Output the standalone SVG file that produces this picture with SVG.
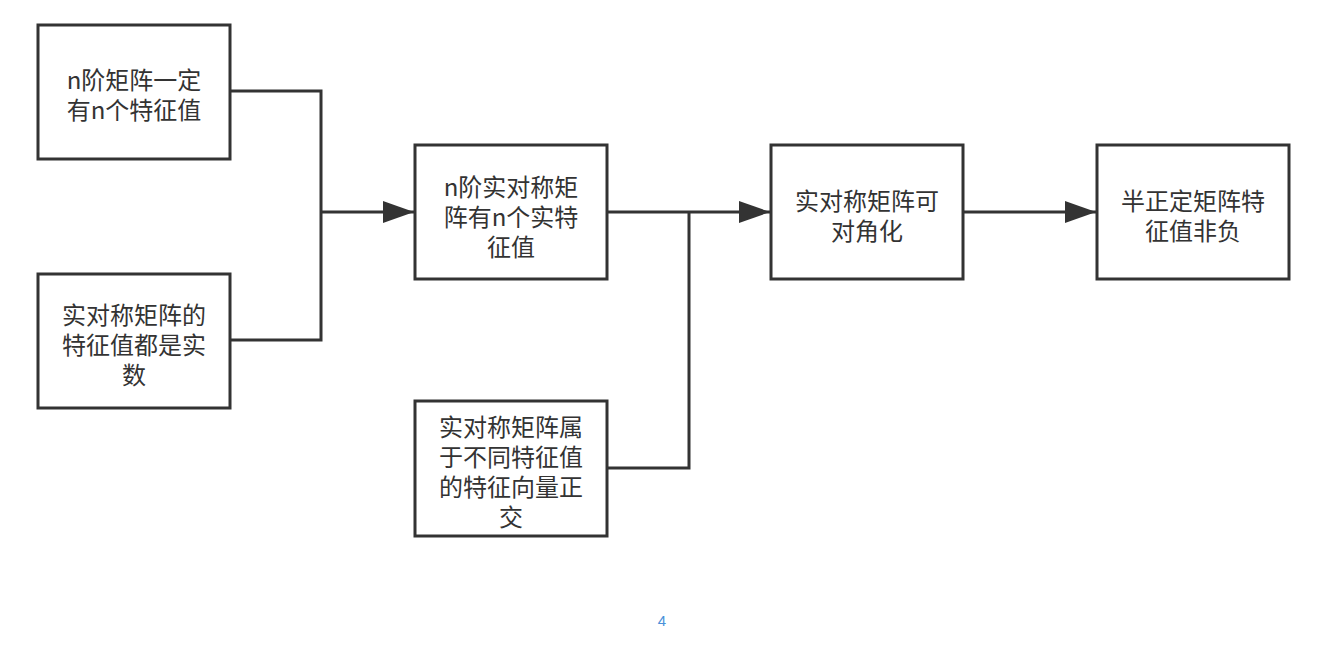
<svg xmlns="http://www.w3.org/2000/svg" width="1338" height="647" viewBox="0 0 1338 647">
<style>
.box{fill:#fff;stroke:#333;stroke-width:3}
.t{font-family:"Noto Sans CJK SC","Microsoft YaHei",sans-serif;font-size:24px;fill:#333;text-anchor:middle;dominant-baseline:central}
.c{fill:none;stroke:#333;stroke-width:3}
.pg{font-family:"Liberation Sans",sans-serif;font-size:15px;fill:#4a90d9;text-anchor:middle}
</style>
<defs>
<marker id="ah" markerUnits="userSpaceOnUse" markerWidth="32" markerHeight="22" refX="31" refY="11" orient="auto">
<path d="M0,0 L31,11 L0,22 Z" fill="#333"/>
</marker>
</defs>
<rect width="1338" height="647" fill="#fff"/>
<g id="connectors">
<polyline class="c" points="230,91 321,91 321,212"/>
<polyline class="c" points="230,340 321,340 321,212"/>
<line class="c" x1="321" y1="212" x2="414" y2="212" marker-end="url(#ah)"/>
<polyline class="c" points="607,468 689,468 689,212"/>
<line class="c" x1="607" y1="212" x2="770" y2="212" marker-end="url(#ah)"/>
<line class="c" x1="963" y1="212" x2="1096" y2="212" marker-end="url(#ah)"/>
</g>
<g id="n1">
<rect class="box" x="38" y="25" width="192" height="134"/>
<text class="t" x="134" y="78">n阶矩阵一定</text>
<text class="t" x="134" y="108">有n个特征值</text>
</g>
<g id="n2">
<rect class="box" x="38" y="274" width="192" height="134"/>
<text class="t" x="134" y="313">实对称矩阵的</text>
<text class="t" x="134" y="343">特征值都是实</text>
<text class="t" x="134" y="373">数</text>
</g>
<g id="n3">
<rect class="box" x="415" y="145" width="192" height="134"/>
<text class="t" x="511" y="185">n阶实对称矩</text>
<text class="t" x="511" y="215">阵有n个实特</text>
<text class="t" x="511" y="245">征值</text>
</g>
<g id="n4">
<rect class="box" x="415" y="401" width="192" height="135"/>
<text class="t" x="511" y="425">实对称矩阵属</text>
<text class="t" x="511" y="455">于不同特征值</text>
<text class="t" x="511" y="485">的特征向量正</text>
<text class="t" x="511" y="515">交</text>
</g>
<g id="n5">
<rect class="box" x="771" y="145" width="192" height="134"/>
<text class="t" x="867" y="199">实对称矩阵可</text>
<text class="t" x="867" y="229">对角化</text>
</g>
<g id="n6">
<rect class="box" x="1097" y="145" width="192" height="134"/>
<text class="t" x="1193" y="199">半正定矩阵特</text>
<text class="t" x="1193" y="229">征值非负</text>
</g>
<text class="pg" x="662" y="626">4</text>
</svg>
